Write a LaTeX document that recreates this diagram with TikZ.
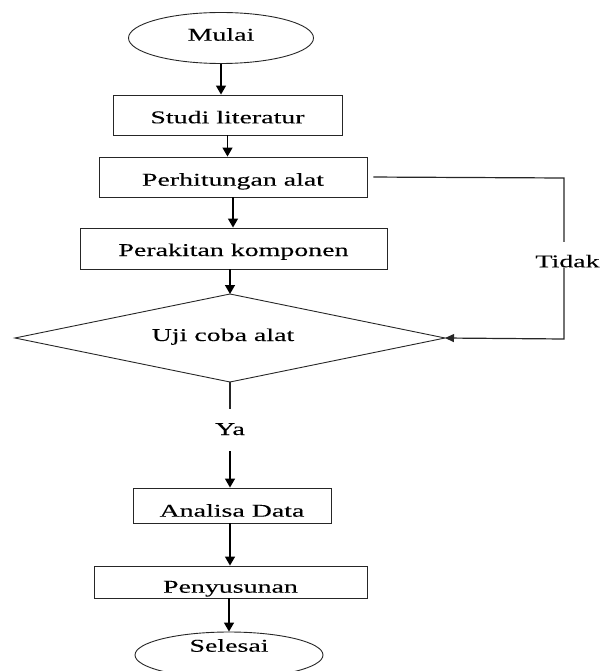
\documentclass[tikz,border=0pt]{standalone}
\usepackage{fontspec}
\setmainfont[FakeStretch=1.55,FakeBold=0.15]{Liberation Serif}
\usetikzlibrary{shapes.geometric,arrows.meta}
\begin{document}
\begin{tikzpicture}[x=1pt,y=-1pt,
  every node/.style={font=\fontsize{18}{20}\selectfont, inner sep=0pt, text height=13pt, text depth=0pt},
  box/.style={draw=black!85, line width=0.9pt, rectangle},
  oval/.style={draw=black!85, line width=0.9pt, ellipse},
  dec/.style={draw=black!85, line width=0.9pt},
  arr/.style={draw=black, line width=1.4pt, -{Triangle[length=9pt,width=10pt]}},
  ln/.style={draw=black!85, line width=1.2pt},
  fb/.style={draw=black!85, line width=1.2pt, -{Triangle[length=9pt,width=8pt]}}]
\useasboundingbox (0,0) rectangle (600,671);

\node[oval, minimum width=185pt, minimum height=51pt] (mulai) at (221,38) {\raisebox{3.8pt}{Mulai}};
\node[box, minimum width=229pt, minimum height=40pt] (studi) at (227.5,115) {\raisebox{-1.8pt}{Studi literatur}};
\node[box, minimum width=268pt, minimum height=40pt] (hitung) at (233,177) {\raisebox{-2.2pt}{Perhitungan alat}};
\node[box, minimum width=307pt, minimum height=41pt] (rakit) at (233.5,248.5) {\raisebox{-1pt}{Perakitan komponen}};
% decision diamond
\node (uji) at (223,338) {\raisebox{3.5pt}{Uji coba alat}};
\coordinate (ujiN) at (230,294);
\coordinate (ujiS) at (230,382);
\coordinate (ujiE) at (445,338);
\coordinate (ujiW) at (15,338);
\draw[dec] (ujiN) -- (ujiE) -- (ujiS) -- (ujiW) -- cycle;
\node[minimum height=42pt] (ya) at (230,430) {\raisebox{1.5pt}{Ya}};
\node[box, minimum width=198pt, minimum height=35pt] (analisa) at (232,505.5) {\raisebox{-4.7pt}{Analisa Data}};
\node[box, minimum width=273pt, minimum height=32pt] (susun) at (230.5,582) {\raisebox{-4.2pt}{Penyusunan}};
\node[oval, minimum width=188pt, minimum height=46pt] (selesai) at (229,655) {\raisebox{9.8pt}{Selesai}};
\node[minimum height=26pt] (tidak) at (567.5,255) {\raisebox{-5.8pt}{Tidak}};
\coordinate (c1) at (564,178);
\coordinate (c2) at (564,339);

\draw[arr] (mulai.south) -- (mulai.south |- studi.north);
\draw[arr] (studi.south) -- (studi.south |- hitung.north);
\draw[arr] (hitung.south) -- (hitung.south |- rakit.north);
\draw[arr] (ujiN |- rakit.south) -- (ujiN);
\draw[ln] (ujiS) -- (ujiS |- ya.north);
\draw[arr] (ujiS |- ya.south) -- (ujiS |- analisa.north);
\draw[arr] (analisa.south -| ya) -- (ya |- susun.north);
\draw[arr] (susun.south -| selesai) -- (selesai.north);
\draw[ln, shorten <=6pt] (hitung.east) -- (c1) -- (c1 |- tidak.north);
\draw[fb] (c1 |- tidak.south) -- (c2) -- (ujiE);
\end{tikzpicture}
\end{document}
